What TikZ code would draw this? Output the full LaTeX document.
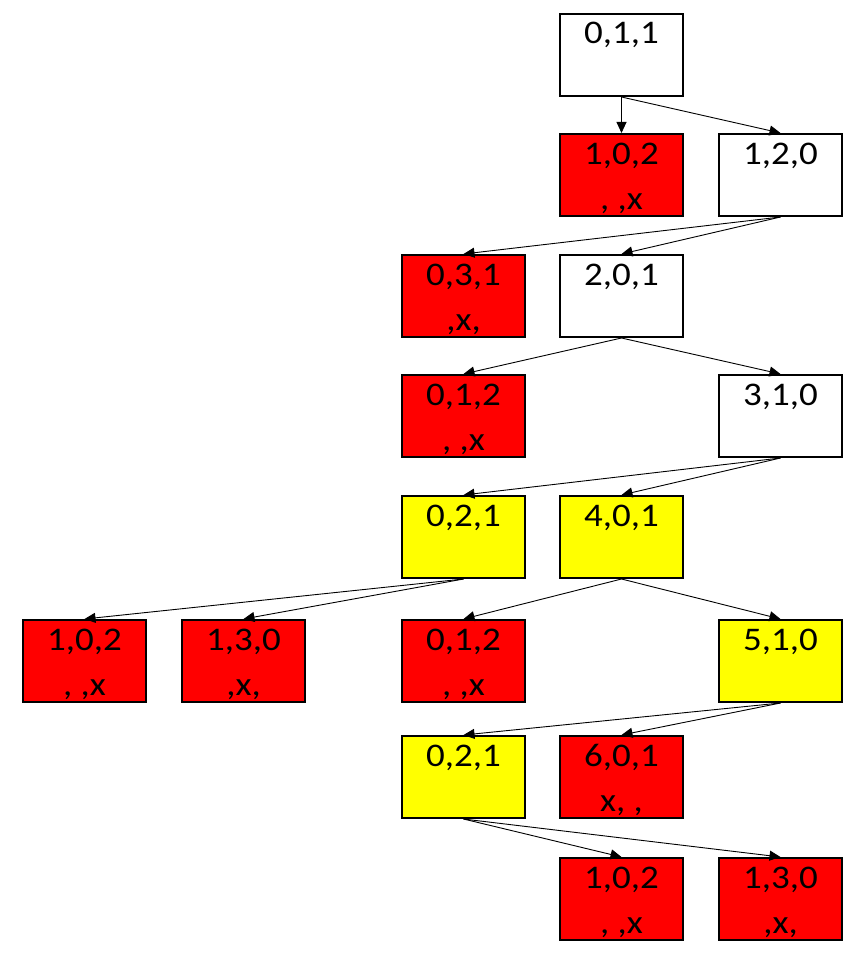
\documentclass[tikz,border=0pt]{standalone}
\usepackage{fontspec}
\setmainfont{Carlito}
\newfontfamily\boxfont[FakeStretch=1.12]{Carlito}
\usetikzlibrary{arrows.meta}
\definecolor{bred}{HTML}{FF0000}
\definecolor{byel}{HTML}{FFFF00}
\tikzset{
  box/.style={draw=black, line width=2pt, rectangle, minimum width=123pt, minimum height=82pt, anchor=north west, inner sep=0pt},
  lbl/.style={anchor=base, inner sep=0pt, font=\boxfont\fontsize{33}{36}\selectfont},
  arr/.style={line width=0.9pt, -{Triangle[length=11pt,width=10pt]}}
}
\newcommand\bx[6]{%
  \node[box, fill=#4] (#1) at (#2,#3) {};
  \node[lbl] (#1l1) at ([yshift=-31pt]#1.north) {#5};
  \node[lbl] (#1l2) at ([yshift=-76pt]#1.north) {#6};
}
\begin{document}
\begin{tikzpicture}[x=1pt,y=-1pt]
\useasboundingbox (0,0) rectangle (853,963);
\bx{a}{559}{13}{white}{0,1,1}{}
\bx{b}{559}{133}{bred}{1,0,2}{, ,x}
\bx{c}{718}{133}{white}{1,2,0}{}
\bx{d}{401}{254}{bred}{0,3,1}{,x,}
\bx{e}{559}{254}{white}{2,0,1}{}
\bx{f}{401}{374}{bred}{0,1,2}{, ,x}
\bx{g}{718}{374}{white}{3,1,0}{}
\bx{h}{401}{495}{byel}{0,2,1}{}
\bx{i}{559}{495}{byel}{4,0,1}{}
\bx{j}{22}{619}{bred}{1,0,2}{, ,x}
\bx{k}{181}{619}{bred}{1,3,0}{,x,}
\bx{l}{401}{619}{bred}{0,1,2}{, ,x}
\bx{m}{718}{619}{byel}{5,1,0}{}
\bx{n}{401}{735}{byel}{0,2,1}{}
\bx{o}{559}{735}{bred}{6,0,1}{x, ,}
\bx{p}{559}{857}{bred}{1,0,2}{, ,x}
\bx{q}{718}{857}{bred}{1,3,0}{,x,}
\draw[arr] (a.south) -- (b.north);
\draw[arr] (a.south) -- (c.north);
\draw[arr] (c.south) -- (d.north);
\draw[arr] (c.south) -- (e.north);
\draw[arr] (e.south) -- (f.north);
\draw[arr] (e.south) -- (g.north);
\draw[arr] (g.south) -- (h.north);
\draw[arr] (g.south) -- (i.north);
\draw[arr] (h.south) -- (j.north);
\draw[arr] (h.south) -- (k.north);
\draw[arr] (i.south) -- (l.north);
\draw[arr] (i.south) -- (m.north);
\draw[arr] (m.south) -- (n.north);
\draw[arr] (m.south) -- (o.north);
\draw[arr] (n.south) -- (p.north);
\draw[arr] (n.south) -- (q.north);
\end{tikzpicture}
\end{document}
